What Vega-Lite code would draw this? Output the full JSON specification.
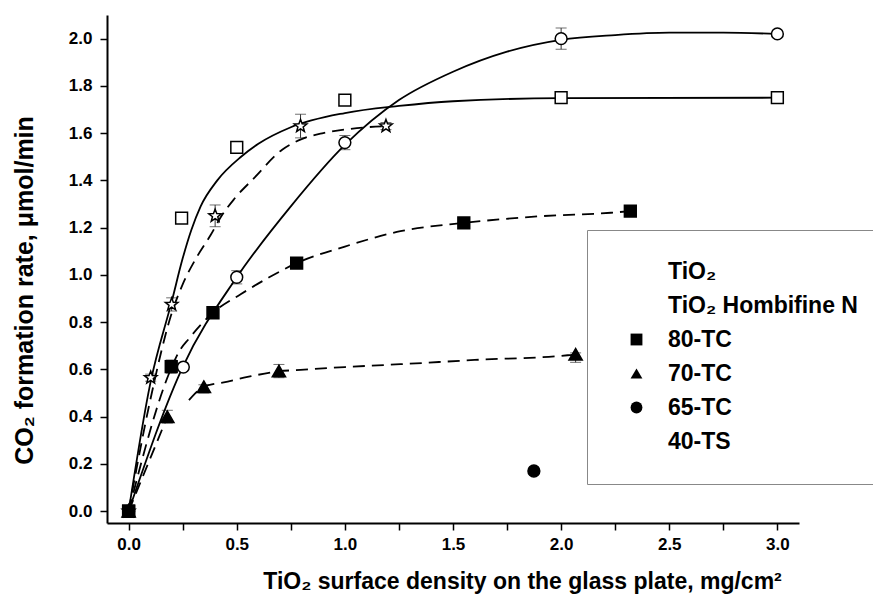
{
  "$schema": "https://vega.github.io/schema/vega-lite/v6.json",
  "autosize": {"type": "none"},
  "width": 692,
  "height": 508,
  "padding": {"left": 107, "top": 15, "right": 74, "bottom": 87},
  "background": "white",
  "config": {
    "view": {"stroke": null},
    "axis": {
      "grid": false,
      "domainColor": "black",
      "domainWidth": 2,
      "tickColor": "black",
      "tickWidth": 1.5,
      "tickSize": 7,
      "labelFont": "Liberation Sans",
      "labelFontWeight": "bold",
      "labelFontSize": 17,
      "labelColor": "black",
      "labelOverlap": false,
      "labelFlush": false,
      "titleFont": "Liberation Sans",
      "titleFontWeight": "bold",
      "titleColor": "black"
    }
  },
  "datasets": {
    "solid": [
      {"series": "TiO2", "px": 0, "py": 0},
      {"series": "TiO2", "px": 0.25, "py": 0.61},
      {"series": "TiO2", "px": 0.5, "py": 0.99},
      {"series": "TiO2", "px": 0.75, "py": 1.29},
      {"series": "TiO2", "px": 1.0, "py": 1.55},
      {"series": "TiO2", "px": 1.25, "py": 1.74},
      {"series": "TiO2", "px": 1.5, "py": 1.86},
      {"series": "TiO2", "px": 1.75, "py": 1.945},
      {"series": "TiO2", "px": 2.0, "py": 1.995},
      {"series": "TiO2", "px": 2.25, "py": 2.015},
      {"series": "TiO2", "px": 2.5, "py": 2.025},
      {"series": "TiO2", "px": 2.75, "py": 2.025},
      {"series": "TiO2", "px": 3.0, "py": 2.02},
      {"series": "Hombifine", "px": 0, "py": 0},
      {"series": "Hombifine", "px": 0.1, "py": 0.54},
      {"series": "Hombifine", "px": 0.2, "py": 0.89},
      {"series": "Hombifine", "px": 0.25, "py": 1.07},
      {"series": "Hombifine", "px": 0.29, "py": 1.19},
      {"series": "Hombifine", "px": 0.333, "py": 1.29},
      {"series": "Hombifine", "px": 0.41, "py": 1.4},
      {"series": "Hombifine", "px": 0.52, "py": 1.5},
      {"series": "Hombifine", "px": 0.6, "py": 1.555},
      {"series": "Hombifine", "px": 0.75, "py": 1.625},
      {"series": "Hombifine", "px": 1.0, "py": 1.685},
      {"series": "Hombifine", "px": 1.25, "py": 1.715},
      {"series": "Hombifine", "px": 1.5, "py": 1.735},
      {"series": "Hombifine", "px": 2.0, "py": 1.748},
      {"series": "Hombifine", "px": 3.0, "py": 1.75}
    ],
    "dashed": [
      {"series": "80a", "px": 0, "py": 0},
      {"series": "80a", "px": 0.197, "py": 0.605},
      {"series": "80a", "px": 0.233, "py": 0.675},
      {"series": "80a", "px": 0.279, "py": 0.73},
      {"series": "80a", "px": 0.39, "py": 0.84},
      {"series": "80a", "px": 0.518, "py": 0.918},
      {"series": "80a", "px": 0.65, "py": 0.99},
      {"series": "80a", "px": 0.777, "py": 1.05},
      {"series": "80a", "px": 1.0, "py": 1.12},
      {"series": "80a", "px": 1.257, "py": 1.185},
      {"series": "80a", "px": 1.55, "py": 1.22},
      {"series": "80a", "px": 1.9, "py": 1.248},
      {"series": "80a", "px": 2.23, "py": 1.263},
      {"series": "80a", "px": 2.32, "py": 1.27},
      {"series": "70a", "px": 0, "py": 0},
      {"series": "70a", "px": 0.179, "py": 0.4},
      {"series": "70b", "px": 0.279, "py": 0.47},
      {"series": "70b", "px": 0.348, "py": 0.527},
      {"series": "70b", "px": 0.44, "py": 0.545},
      {"series": "70b", "px": 0.55, "py": 0.568},
      {"series": "70b", "px": 0.695, "py": 0.592},
      {"series": "70b", "px": 0.795, "py": 0.598},
      {"series": "70b", "px": 1.0, "py": 0.61},
      {"series": "70b", "px": 1.257, "py": 0.622},
      {"series": "70b", "px": 1.6, "py": 0.64},
      {"series": "70b", "px": 2.03, "py": 0.66},
      {"series": "70b", "px": 2.067, "py": 0.664},
      {"series": "40a", "px": 0, "py": 0},
      {"series": "40a", "px": 0.1, "py": 0.47},
      {"series": "40a", "px": 0.2, "py": 0.84},
      {"series": "40a", "px": 0.25, "py": 0.96},
      {"series": "40a", "px": 0.318, "py": 1.08},
      {"series": "40a", "px": 0.38, "py": 1.17},
      {"series": "40a", "px": 0.43, "py": 1.25},
      {"series": "40a", "px": 0.487, "py": 1.32},
      {"series": "40a", "px": 0.58, "py": 1.41},
      {"series": "40a", "px": 0.71, "py": 1.53},
      {"series": "40a", "px": 0.8, "py": 1.575},
      {"series": "40a", "px": 0.9, "py": 1.6},
      {"series": "40a", "px": 1.0, "py": 1.615},
      {"series": "40a", "px": 1.1, "py": 1.625},
      {"series": "40a", "px": 1.2, "py": 1.63}
    ],
    "pts": [
      {"series": "40-TS", "px": 0, "py": 0},
      {"series": "TiO₂", "px": 0, "py": 0},
      {"series": "TiO₂ Hombifine N", "px": 0, "py": 0},
      {"series": "80-TC", "px": 0, "py": 0},
      {"series": "70-TC", "px": 0, "py": 0},
      {"series": "TiO₂", "px": 0.253, "py": 0.61},
      {"series": "TiO₂", "px": 0.5, "py": 0.99},
      {"series": "TiO₂", "px": 1.0, "py": 1.56},
      {"series": "TiO₂", "px": 2.0, "py": 2.0},
      {"series": "TiO₂", "px": 3.0, "py": 2.02},
      {"series": "TiO₂ Hombifine N", "px": 0.245, "py": 1.24},
      {"series": "TiO₂ Hombifine N", "px": 0.5, "py": 1.54},
      {"series": "TiO₂ Hombifine N", "px": 1.0, "py": 1.74},
      {"series": "TiO₂ Hombifine N", "px": 2.0, "py": 1.75},
      {"series": "TiO₂ Hombifine N", "px": 3.0, "py": 1.75},
      {"series": "40-TS", "px": 0.102, "py": 0.565},
      {"series": "40-TS", "px": 0.199, "py": 0.875},
      {"series": "40-TS", "px": 0.4, "py": 1.25},
      {"series": "40-TS", "px": 0.795, "py": 1.63},
      {"series": "40-TS", "px": 1.19, "py": 1.63},
      {"series": "80-TC", "px": 0.197, "py": 0.612},
      {"series": "80-TC", "px": 0.39, "py": 0.84},
      {"series": "80-TC", "px": 0.777, "py": 1.05},
      {"series": "80-TC", "px": 1.55, "py": 1.22},
      {"series": "80-TC", "px": 2.32, "py": 1.27},
      {"series": "70-TC", "px": 0.179, "py": 0.4},
      {"series": "70-TC", "px": 0.348, "py": 0.527},
      {"series": "70-TC", "px": 0.695, "py": 0.593},
      {"series": "70-TC", "px": 2.067, "py": 0.664},
      {"series": "65-TC", "px": 1.874, "py": 0.17}
    ],
    "errs": [
      {"px": 0, "lo": -0.02, "hi": 0.02},
      {"px": 0.5, "lo": 0.962, "hi": 1.018},
      {"px": 1.0, "lo": 1.53, "hi": 1.59},
      {"px": 2.0, "lo": 1.955, "hi": 2.045},
      {"px": 3.0, "lo": 1.735, "hi": 1.765},
      {"px": 0.102, "lo": 0.55, "hi": 0.58},
      {"px": 0.199, "lo": 0.847, "hi": 0.903},
      {"px": 0.4, "lo": 1.204, "hi": 1.296},
      {"px": 0.795, "lo": 1.58, "hi": 1.68},
      {"px": 1.19, "lo": 1.615, "hi": 1.645},
      {"px": 0.197, "lo": 0.584, "hi": 0.64},
      {"px": 0.179, "lo": 0.373, "hi": 0.427},
      {"px": 0.348, "lo": 0.5, "hi": 0.535},
      {"px": 0.695, "lo": 0.565, "hi": 0.621},
      {"px": 2.067, "lo": 0.63, "hi": 0.67}
    ]
  },
  "layer": [
    {
      "data": {"name": "errs"},
      "mark": {"type": "rule", "stroke": "#333333", "strokeWidth": 1},
      "encoding": {
        "x": {"field": "px", "type": "quantitative", "scale": {"domain": [-0.1, 3.1], "nice": false, "zero": false},
          "axis": {"values": [0, 0.25, 0.5, 0.75, 1, 1.25, 1.5, 1.75, 2, 2.25, 2.5, 2.75, 3],
            "labelExpr": "round(datum.value*4) % 2 === 0 ? format(datum.value, '.1f') : ''",
            "labelPadding": 6,
            "titleFontSize": 23, "titleX": 415, "titleY": 58, "titleBaseline": "middle", "titleAlign": "center", "titleAnchor": null,
            "title": "TiO₂ surface density on the glass plate, mg/cm²"}},
        "y": {"field": "lo", "type": "quantitative", "scale": {"domain": [-0.05, 2.1], "nice": false, "zero": false},
          "axis": {"values": [0, 0.1, 0.2, 0.3, 0.4, 0.5, 0.6, 0.7, 0.8, 0.9, 1, 1.1, 1.2, 1.3, 1.4, 1.5, 1.6, 1.7, 1.8, 1.9, 2.0],
            "labelExpr": "round(datum.value*10) % 2 === 0 ? format(datum.value, '.1f') : ''",
            "labelPadding": 8,
            "titleFontSize": 25, "titleX": -83, "titleY": 275, "titleBaseline": "middle", "titleAlign": "center", "titleAnchor": null,
            "title": "CO₂ formation rate, μmol/min"}},
        "y2": {"field": "hi"}
      }
    },
    {
      "data": {"name": "errs"},
      "mark": {"type": "tick", "orient": "horizontal", "size": 11, "thickness": 1, "color": "#333333"},
      "encoding": {
        "x": {"field": "px", "type": "quantitative"},
        "y": {"field": "lo", "type": "quantitative"}
      }
    },
    {
      "data": {"name": "errs"},
      "mark": {"type": "tick", "orient": "horizontal", "size": 11, "thickness": 1, "color": "#333333"},
      "encoding": {
        "x": {"field": "px", "type": "quantitative"},
        "y": {"field": "hi", "type": "quantitative"}
      }
    },
    {
      "data": {"name": "solid"},
      "mark": {"type": "line", "interpolate": "monotone", "color": "black", "strokeWidth": 1.8},
      "encoding": {
        "x": {"field": "px", "type": "quantitative"},
        "y": {"field": "py", "type": "quantitative"},
        "detail": {"field": "series", "type": "nominal"}
      }
    },
    {
      "data": {"name": "dashed"},
      "mark": {"type": "line", "interpolate": "monotone", "color": "black", "strokeWidth": 1.8, "strokeDash": [12, 7]},
      "encoding": {
        "x": {"field": "px", "type": "quantitative"},
        "y": {"field": "py", "type": "quantitative"},
        "detail": {"field": "series", "type": "nominal"}
      }
    },
    {
      "data": {"name": "pts"},
      "mark": {"type": "point", "filled": true, "opacity": 1, "stroke": "black", "strokeWidth": 1.5},
      "encoding": {
        "x": {"field": "px", "type": "quantitative"},
        "y": {"field": "py", "type": "quantitative"},
        "shape": {
          "field": "series", "type": "nominal",
          "scale": {"domain": ["TiO₂", "TiO₂ Hombifine N", "80-TC", "70-TC", "65-TC", "40-TS"],
                    "range": ["circle", "square", "square", "triangle-up", "circle", "M0,-1L0.247,-0.34L0.951,-0.309L0.4,0.13L0.588,0.809L0,0.42L-0.588,0.809L-0.4,0.13L-0.951,-0.309L-0.247,-0.34Z"]},
          "legend": {
            "title": null,
            "orient": "none",
            "legendX": 480,
            "legendY": 215,
            "padding": 30,
            "strokeColor": "#888888",
            "fillColor": "white",
            "symbolSize": 140,
            "symbolStrokeColor": "black",
            "symbolStrokeWidth": 1.5,
            "symbolOffset": 8,
            "labelOffset": 20,
            "rowPadding": 10,
            "labelLimit": 400,
            "labelFont": "Liberation Sans",
            "labelFontWeight": "bold",
            "labelFontSize": 23,
            "labelColor": "black"
          }
        },
        "fill": {
          "field": "series", "type": "nominal",
          "scale": {"domain": ["TiO₂", "TiO₂ Hombifine N", "80-TC", "70-TC", "65-TC", "40-TS"],
                    "range": ["white", "white", "black", "black", "black", "white"]},
          "legend": {
            "title": null,
            "orient": "none",
            "legendX": 480,
            "legendY": 215,
            "padding": 30,
            "strokeColor": "#888888",
            "fillColor": "white",
            "symbolSize": 140,
            "symbolStrokeColor": "black",
            "symbolStrokeWidth": 1.5,
            "symbolOffset": 8,
            "labelOffset": 20,
            "rowPadding": 10,
            "labelLimit": 400,
            "labelFont": "Liberation Sans",
            "labelFontWeight": "bold",
            "labelFontSize": 23,
            "labelColor": "black"
          }
        },
        "size": {
          "condition": {"test": "datum.series === '70-TC' || datum.series === '40-TS'", "value": 175},
          "value": 140
        }
      }
    }
  ]
}
